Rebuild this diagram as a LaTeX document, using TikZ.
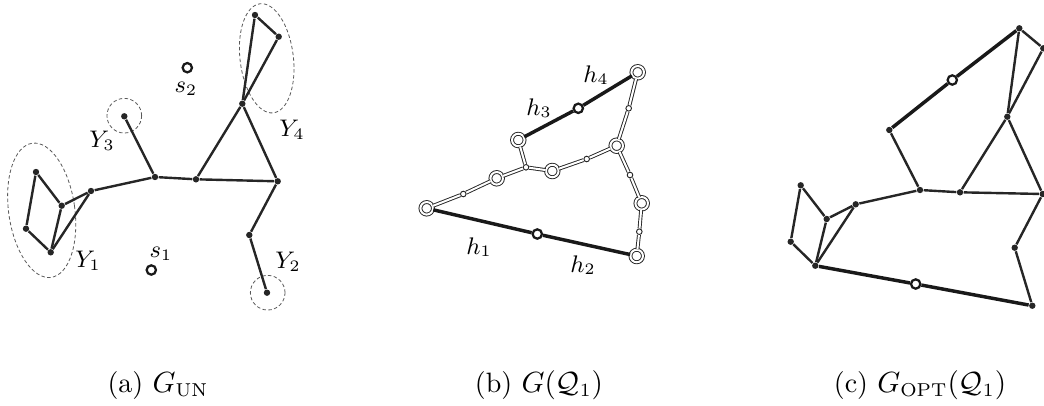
\documentclass[tikz,border=0pt]{standalone}
\usepackage{amsmath,amssymb}
\usepackage{tikz}
\usetikzlibrary{arrows.meta,positioning,calc}

\begin{document}
\begin{tikzpicture}[x=0.375pt,y=-0.375pt,
  dot/.style={circle,fill=black!85,inner sep=0pt,minimum size=2.4pt},
  hole/.style={circle,draw=black!90,line width=0.85pt,fill=white,inner sep=0pt,minimum size=3.5pt},
  ring/.style={circle,draw=black!85,double,double distance=0.75pt,line width=0.35pt,fill=white,inner sep=0pt,minimum size=4.7pt},
  knot/.style={circle,draw=black!85,line width=0.35pt,fill=white,inner sep=0pt,minimum size=2.1pt},
  link/.style={black!85,line width=0.9pt},
  heavy/.style={black!90,line width=1.3pt},
  tube/.style={draw=black!85,double,double distance=0.75pt,line width=0.35pt},
  zone/.style={draw=black!65,line width=0.3pt,dash pattern=on 1.3pt off 0.9pt},
  lab/.style={font=\fontsize{9}{11}\selectfont,inner sep=0pt},
  subcap/.style={font=\fontsize{10.5}{12}\selectfont,inner sep=0pt}]
  \clip (0,0) rectangle (1044,405);

  % (a)
  \draw[zone,rotate around={8:(41.7,210.3)}] (41.7,210.3) ellipse [x radius=12.4pt, y radius=25.4pt];
  \draw[zone,rotate around={7:(266.7,58.3)}] (266.7,58.3) ellipse [x radius=10pt, y radius=20.6pt];
  \draw[zone] (124.3,115.7) circle (6.5pt);
  \draw[zone] (267.7,292.7) circle (6.5pt);
  \node[dot] (a1) at (36,172) {};
  \node[dot] (a2) at (61.7,205.7) {};
  \node[dot] (a3) at (26,228.7) {};
  \node[dot] (a4) at (50.7,252.3) {};
  \node[dot] (ab) at (91,191) {};
  \node[dot] (ac) at (155,177) {};
  \node[dot] (ay3) at (124.3,116.3) {};
  \node[dot] (ad) at (196,179.3) {};
  \node[dot] (ae) at (277.7,181.3) {};
  \node[dot] (af) at (242.3,103.7) {};
  \node[dot] (ag1) at (255,15) {};
  \node[dot] (ag2) at (278.7,36.7) {};
  \node[dot] (ah) at (249.3,235) {};
  \node[dot] (ay2) at (267,292.7) {};
  \node[hole] (as1) at (151.3,270) {};
  \node[hole] (as2) at (187.3,67.7) {};
  \foreach \u/\v in {a1/a3,a3/a4,a1/a2,a2/a4,a2/ab,a4/ab,ab/ac,ac/ay3,ac/ad,ad/ae,ad/af,af/ae,ae/ah,ah/ay2,af/ag1,ag1/ag2,ag2/af}
    \draw[link] (\u) -- (\v);
  \node[lab] at (88,261) {$Y_1$};
  \node[lab] at (288,262) {$Y_2$};
  \node[lab] at (102,141) {$Y_3$};
  \node[lab] at (292,130) {$Y_4$};
  \node[lab] at (161,254) {$s_1$};
  \node[lab] at (186,89) {$s_2$};

  % (b)
  \node[ring] (b1) at (426.7,208.3) {};
  \node[knot] (bs1) at (463.3,194) {};
  \node[ring] (b2) at (496.7,178.3) {};
  \node[knot] (bj) at (526,167.3) {};
  \node[ring] (b3) at (518.3,140) {};
  \node[ring] (b4) at (552.3,171) {};
  \node[knot] (bs2) at (586.7,159) {};
  \node[ring] (b5) at (616.7,145.7) {};
  \node[knot] (bs3) at (628.7,108.3) {};
  \node[ring] (b6) at (637.7,72.3) {};
  \node[knot] (bs4) at (630,175) {};
  \node[ring] (b7) at (641.7,203.3) {};
  \node[knot] (bs5) at (639.3,231.7) {};
  \node[ring] (b8) at (636.7,256) {};
  \node[hole] (bh1) at (537.3,234) {};
  \node[hole] (bh2) at (578.3,108.3) {};
  \foreach \u/\v in {b1/bs1,bs1/b2,b2/bj,bj/b3,bj/b4,b4/bs2,bs2/b5,b5/bs3,bs3/b6,b5/bs4,bs4/b7,b7/bs5,bs5/b8}
    \draw[tube] (\u) -- (\v);
  \foreach \u/\v in {b1/bh1,bh1/b8,b3/bh2,bh2/b6}
    \draw[heavy] (\u) -- (\v);
  \node[lab] at (479,247) {$h_1$};
  \node[lab] at (583,265) {$h_2$};
  \node[lab] at (539,108) {$h_3$};
  \node[lab] at (596,75) {$h_4$};

  % (c)
  \node[dot] (c1) at (800.7,185.3) {};
  \node[dot] (c2) at (826.7,219) {};
  \node[dot] (c3) at (790.7,241.7) {};
  \node[dot] (c4) at (815.3,265.7) {};
  \node[dot] (cb) at (855.7,204.3) {};
  \node[dot] (cc) at (920,190) {};
  \node[dot] (cl) at (889.3,130) {};
  \node[hole] (cm) at (952.3,80) {};
  \node[dot] (ct) at (1019.3,28.3) {};
  \node[dot] (ct2) at (1043.3,48.3) {};
  \node[dot] (cf) at (1007.3,116.7) {};
  \node[dot] (cd) at (960,192.3) {};
  \node[dot] (ce) at (1042.7,194) {};
  \node[dot] (ch) at (1014.7,247.7) {};
  \node[dot] (cbr) at (1032.3,305.7) {};
  \node[hole] (cn) at (915.7,284) {};
  \foreach \u/\v in {c1/c3,c3/c4,c1/c2,c2/c4,c2/cb,c4/cb,cb/cc,cc/cl,cc/cd,cd/ce,cd/cf,cf/ce,cf/ct,ct/ct2,ct2/cf,ce/ch,ch/cbr}
    \draw[link] (\u) -- (\v);
  \foreach \u/\v in {cl/cm,cm/ct,c4/cn,cn/cbr}
    \draw[heavy] (\u) -- (\v);

  \node[subcap] (capa) at (158,385) {(a)~$G_{\mathrm{UN}}$};
  \node[subcap] (capb) at (539,385) {(b)~$G(\mathcal{Q}_1)$};
  \node[subcap] (capc) at (920,385) {(c)~$G_{\mathrm{OPT}}(\mathcal{Q}_1)$};
\end{tikzpicture}
\end{document}
